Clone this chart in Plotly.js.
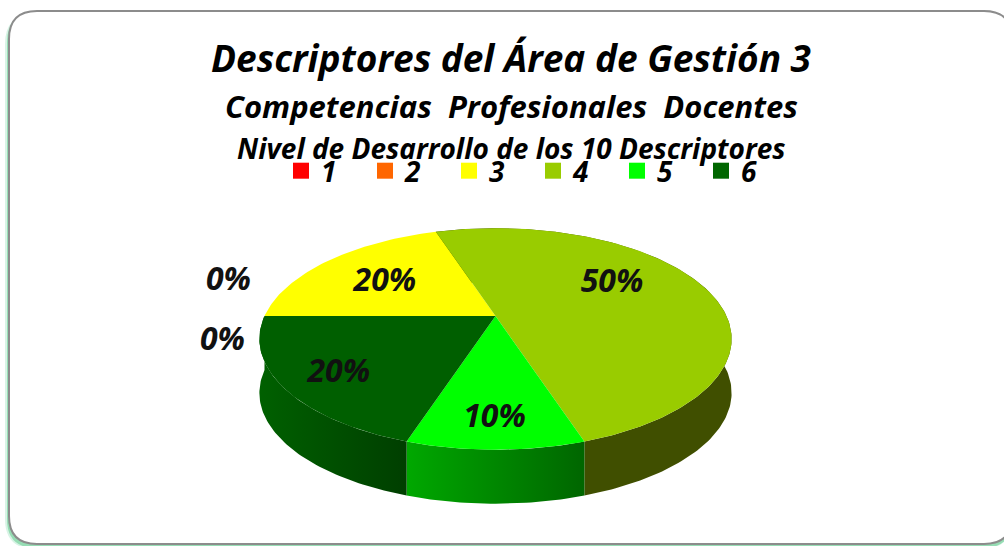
<!DOCTYPE html>
<html><head><meta charset="utf-8">
<script src="https://cdn.plot.ly/plotly-3.0.1.min.js"></script>
<style>html,body{margin:0;padding:0;background:#fff;overflow:hidden}#c{width:1004px;height:546px}</style>
</head><body><div id="c"></div>
<script>
const categories = ['1','2','3','4','5','6'];
const percents = [0,0,20,50,10,20];
const faceColors = ['#ff0000','#ff6600','#ffff00','#99cc00','#00ff00','#005f00'];
const legendColors = ['#ff0000','#ff6600','#ffff00','#99cc00','#00ff00','#006600'];
const sideStops = [null,null,null,['#404f00','#404f00'],['#00a800','#006600'],['#006000','#003f00']];
const titleLine1 = 'Descriptores del Área de Gestión 3';
const titleLine2 = 'Competencias\u00a0 Profesionales\u00a0 Docentes';
const titleLine3 = 'Nivel de Desarrollo de los 10 Descriptores';

// geometry of the tilted disc, in the pixel-sized axes below
const geo = {cx:495.5, cy:316, rx:231, ry:106, k:0.207, depth:54, startDeg:-90};
const labelOffsets = [[-36,-34],[-42,26],[56,23],[-90,-1],[-1,-31],[56,-13]];
const FONT = '"Open Sans", Lato, sans-serif';

function project(deg){
  const t = deg*Math.PI/180, d = 1+geo.k*Math.cos(t);
  return [geo.cx+geo.rx*Math.sin(t)/d, geo.cy-geo.ry*Math.cos(t)/d];
}
function arc(a,b){
  const pts=[], n=Math.max(2,Math.ceil(Math.abs(b-a)));
  for(let i=0;i<=n;i++) pts.push(project(a+(b-a)*i/n));
  return pts;
}
const total = percents.reduce((s,v)=>s+v,0);
let ang = geo.startDeg;
const spans = percents.map(v=>{const a=ang; ang+=v/total*360; return [a,ang];});

const sideTraces=[], faceTraces=[], legendTraces=[];
percents.forEach((v,i)=>{
  const [a,b]=spans[i];
  legendTraces.push({type:'scatter',mode:'markers',x:[null],y:[null],name:categories[i],
    marker:{symbol:'square',size:18,color:legendColors[i]},hoverinfo:'skip'});
  if(!v) return;
  const rim=arc(a,b);
  if(sideStops[i]){
    const low=rim.slice().reverse().map(p=>[p[0],p[1]+geo.depth]);
    const wall=rim.concat(low);
    const xs=wall.map(p=>p[0]);
    sideTraces.push({type:'scatter',mode:'lines',x:wall.map(p=>p[0]),y:wall.map(p=>p[1]),
      fill:'toself',line:{width:0},showlegend:false,hoverinfo:'skip',
      fillcolor:sideStops[i][0],
      fillgradient:{type:'horizontal',start:Math.min(...xs),stop:Math.max(...xs),
        colorscale:[[0,sideStops[i][0]],[1,sideStops[i][1]]]}});
  }
  const face=[[geo.cx,geo.cy]].concat(rim,[[geo.cx,geo.cy]]);
  faceTraces.push({type:'scatter',mode:'lines',x:face.map(p=>p[0]),y:face.map(p=>p[1]),
    fill:'toself',fillcolor:faceColors[i],line:{width:0},name:categories[i],showlegend:false,
    hovertemplate:categories[i]+': '+v+'%<extra></extra>'});
});
const mids=spans.map(([a,b])=>project((a+b)/2));
const labelTrace={type:'scatter',mode:'text',showlegend:false,hoverinfo:'skip',
  x:mids.map((p,i)=>p[0]+labelOffsets[i][0]),
  y:mids.map((p,i)=>p[1]+labelOffsets[i][1]),
  text:percents.map(v=>v+'%'),textposition:'middle center',
  textfont:{family:FONT,size:32,color:'#111',weight:700,style:'italic'}};

function rr(x0,y0,x1,y1,r){
  return `M${x0+r},${y0} L${x1-r},${y0} Q${x1},${y0} ${x1},${y0+r} L${x1},${y1-r} Q${x1},${y1} ${x1-r},${y1} L${x0+r},${y1} Q${x0},${y1} ${x0},${y1-r} L${x0},${y0+r} Q${x0},${y0} ${x0+r},${y0} Z`;
}
const shapes=[
  {type:'path',path:rr(5,14,1012,549,30),fillcolor:'rgba(40,190,110,0.18)',line:{width:0},layer:'below'},
  {type:'path',path:rr(7,13,1012,548,29),fillcolor:'rgba(30,180,90,0.35)',line:{width:0},layer:'below'},
  {type:'path',path:rr(9,11,1012,544,28),fillcolor:'#ffffff',line:{color:'#8c8c8c',width:2},layer:'below'}
];
function tline(text,y,size){
  return {text:`<b><i>${text}</i></b>`,x:511.5,y:y,xref:'x',yref:'y',showarrow:false,xanchor:'center',yanchor:'middle',
    font:{family:FONT,size:size,color:'#000'}};
}
const layout={
  width:1004,height:546,margin:{l:0,r:0,t:0,b:0},paper_bgcolor:'#fff',plot_bgcolor:'rgba(0,0,0,0)',
  title:{text:`<b><i>${titleLine1}</i></b>`,x:511/1004,xanchor:'center',xref:'paper',y:1-59/546,yref:'container',yanchor:'middle',
    font:{family:FONT,size:37,color:'#000'}},
  xaxis:{range:[0,1004],visible:false,fixedrange:true},
  yaxis:{range:[546,0],visible:false,fixedrange:true},
  shapes:shapes,
  annotations:[tline(titleLine2,106,31),tline(titleLine3,148,28)],
  showlegend:true,
  legend:{orientation:'h',x:281/1004,xref:'paper',y:1-146/546,font:{family:FONT,size:28,color:'#000',style:'italic',weight:700},
    entrywidth:39,entrywidthmode:'pixels',itemclick:false,itemdoubleclick:false,traceorder:'normal',bgcolor:'rgba(0,0,0,0)',
    xanchor:'left',yanchor:'top'}
};
Plotly.newPlot('c',[...sideTraces,...faceTraces,labelTrace,...legendTraces],layout,{displayModeBar:false,staticPlot:true});
</script></body></html>
